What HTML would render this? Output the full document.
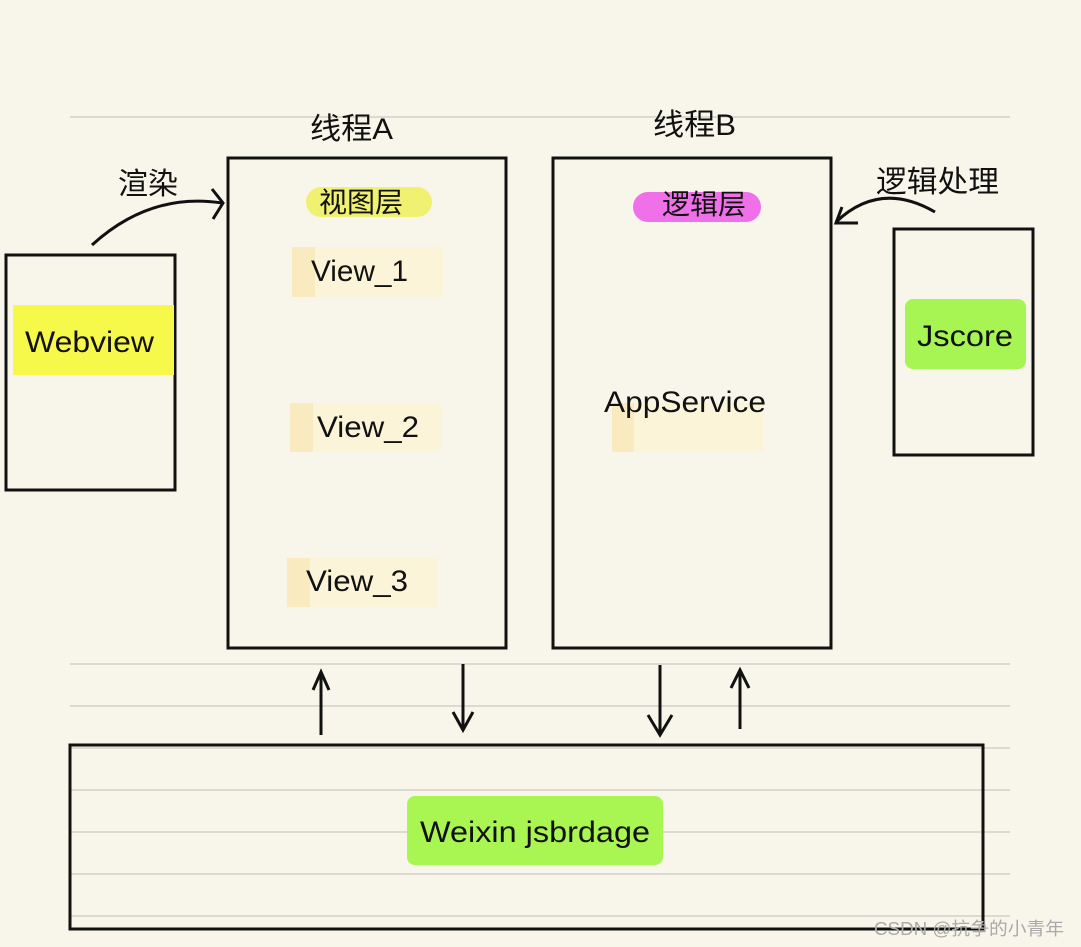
<!DOCTYPE html>
<html><head><meta charset="utf-8"><style>
html,body{margin:0;padding:0;background:#f8f5ea;}
svg{display:block;}
text{font-family:"Liberation Sans","Noto Sans CJK SC",sans-serif;fill:#111;}
</style></head><body>
<svg width="1081" height="947" viewBox="0 0 1081 947" xmlns="http://www.w3.org/2000/svg">
<rect width="1081" height="947" fill="#f8f5ea"/>
<g stroke="#dcd9d0" stroke-width="2">
<line x1="70" y1="117" x2="1010" y2="117"/>
<line x1="70" y1="664" x2="1010" y2="664"/>
<line x1="70" y1="706" x2="1010" y2="706"/>
<line x1="70" y1="748" x2="1010" y2="748"/>
<line x1="70" y1="790" x2="1010" y2="790"/>
<line x1="70" y1="832" x2="1010" y2="832"/>
<line x1="70" y1="874" x2="1010" y2="874"/>
<line x1="70" y1="916" x2="1010" y2="916"/>
</g>
<g fill="none" stroke="#111" stroke-width="3">
<rect x="6" y="255" width="169" height="235"/>
<rect x="228" y="158" width="278" height="490"/>
<rect x="553" y="158" width="278" height="490"/>
<rect x="894" y="229" width="139" height="226"/>
<rect x="70" y="745" width="913" height="184"/>
<path d="M92 245 Q150 192 222 203"/>
<path d="M212 189 L223 203 L213 219"/>
<path d="M935 212 Q880 180 836 222"/>
<path d="M842 207 L836 223 L858 223"/>
<line x1="321" y1="735" x2="321" y2="672"/>
<path d="M313 690 L321 672 L329 690"/>
<line x1="463" y1="664" x2="463" y2="730"/>
<path d="M453 712 L463 730 L473 712"/>
<line x1="660" y1="665" x2="660" y2="735"/>
<path d="M648 715 L660 735 L672 715"/>
<line x1="740" y1="670" x2="740" y2="729"/>
<path d="M731 688 L740 670 L749 688"/>
</g>
<rect x="13" y="305" width="161" height="70" fill="#f6f94a"/>
<rect x="306" y="187" width="126" height="30" rx="15" fill="#f0f071"/>
<rect x="633" y="192" width="128" height="30" rx="15" fill="#ef70e8"/>
<rect x="905" y="299" width="121" height="70" rx="8" fill="#a6f552"/>
<rect x="407" y="796" width="256" height="69" rx="8" fill="#a9f552"/>
<g fill="#fcf4d9">
<rect x="292" y="247" width="151" height="50"/>
<rect x="290" y="403" width="151" height="49"/>
<rect x="287" y="558" width="151" height="49"/>
<rect x="612" y="403" width="151" height="49"/>
</g>
<g fill="#f9eac0">
<rect x="292" y="247" width="23" height="50"/>
<rect x="290" y="403" width="23" height="49"/>
<rect x="287" y="558" width="23" height="49"/>
<rect x="612" y="403" width="22" height="49"/>
</g>
<g font-size="30">
<text x="310" y="139" textLength="83" lengthAdjust="spacingAndGlyphs">线程A</text>
<text x="653" y="135" textLength="83" lengthAdjust="spacingAndGlyphs">线程B</text>
<text x="118" y="194">渲染</text>
<text x="876" y="192" textLength="123" lengthAdjust="spacingAndGlyphs">逻辑处理</text>
<text x="319" y="212" font-size="28">视图层</text>
<text x="662" y="214" font-size="28">逻辑层</text>
<text x="25" y="352" textLength="129" lengthAdjust="spacingAndGlyphs">Webview</text>
<text x="311" y="281" textLength="97" lengthAdjust="spacingAndGlyphs">View_1</text>
<text x="317" y="437" textLength="102" lengthAdjust="spacingAndGlyphs">View_2</text>
<text x="306" y="591" textLength="102" lengthAdjust="spacingAndGlyphs">View_3</text>
<text x="604" y="412" textLength="162" lengthAdjust="spacingAndGlyphs">AppService</text>
<text x="917" y="346" textLength="96" lengthAdjust="spacingAndGlyphs">Jscore</text>
<text x="420" y="842" textLength="230" lengthAdjust="spacingAndGlyphs">Weixin jsbrdage</text>
</g>
<text x="874" y="935" font-size="18" style="fill:#aaa" textLength="190" lengthAdjust="spacingAndGlyphs">CSDN @抗争的小青年</text>
</svg>
</body></html>
